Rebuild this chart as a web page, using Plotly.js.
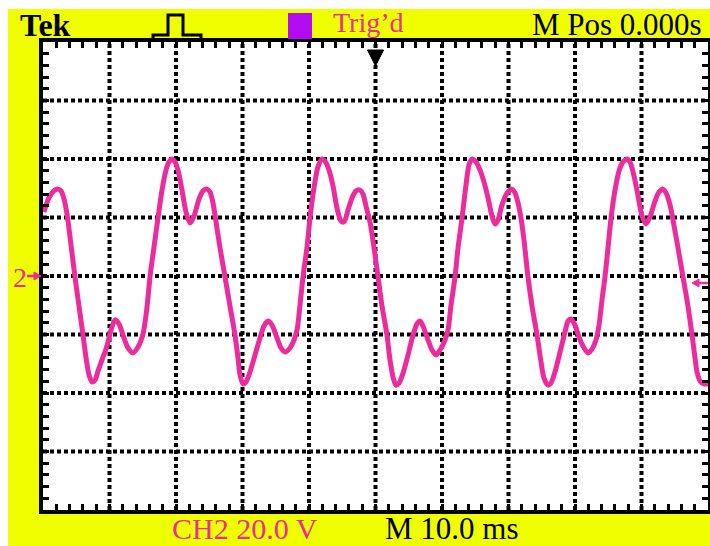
<!DOCTYPE html>
<html>
<head>
<meta charset="utf-8">
<script src="https://cdn.plot.ly/plotly-3.0.1.min.js"></script>
<style>
  html, body { margin: 0; padding: 0; background: #ffffff; }
  #scope { width: 710px; height: 546px; }
</style>
</head>
<body>
<div id="scope"></div>
<script>
// CH2 capture: time in ms (10 ms/div, trigger at 0), voltage in V (20 V/div)
const timeMs = [
  -49.85, -49.25, -48.65, -48.20, -47.74, -47.29, -46.84, -46.39, -45.79, -45.19,
  -44.59, -43.98, -43.53, -43.08, -42.63, -42.18, -41.73, -41.13, -40.38, -39.77,
  -39.17, -38.57, -37.97, -37.22, -36.47, -35.71, -34.96, -34.36, -33.91, -33.31,
  -32.71, -32.10, -31.50, -31.05, -30.60, -30.15, -29.70, -29.10, -28.50, -27.89,
  -27.29, -26.54, -25.94, -25.34, -24.89, -24.44, -23.98, -23.38, -22.63, -21.88,
  -21.13, -20.68, -20.38, -19.92, -19.47, -18.87, -18.12, -17.37, -16.77, -16.16,
  -15.56, -14.81, -14.21, -13.61, -12.86, -12.25, -11.80, -11.35, -10.90, -10.30,
  -9.85, -9.25, -8.65, -8.04, -7.59, -6.99, -6.39, -5.79, -5.19, -4.74,
  -4.13, -3.53, -2.93, -2.33, -1.88, -1.43, -0.83, -0.22, 0.38, 0.98,
  1.73, 2.18, 2.63, 3.08, 3.54, 4.14, 4.89, 5.64, 6.24, 6.69,
  7.14, 7.90, 8.50, 9.10, 9.70, 10.45, 10.90, 11.36, 11.96, 12.41,
  13.01, 13.61, 14.06, 14.51, 15.11, 15.72, 16.32, 16.92, 17.52, 17.97,
  18.42, 19.02, 19.78, 20.53, 20.98, 21.43, 21.88, 22.33, 22.93, 23.54,
  24.29, 24.89, 25.34, 25.94, 26.39, 26.99, 27.75, 28.50, 28.95, 29.40,
  30.00, 30.60, 31.36, 31.96, 32.56, 33.16, 33.61, 34.06, 34.51, 34.96,
  35.42, 36.02, 36.62, 37.22, 37.82, 38.27, 38.87, 39.48, 40.08, 40.68,
  41.28, 42.03, 42.63, 43.24, 43.69, 44.29, 44.74, 45.49, 46.24, 46.99,
  47.60, 48.05, 48.35, 48.80, 49.40, 50.00
];
const ch2Volts = [
  21.9, 26.0, 28.4, 29.4, 29.7, 29.1, 26.3, 21.2, 10.6, -0.3,
  -10.3, -20.2, -28.0, -33.8, -36.2, -35.6, -32.5, -28.7, -23.9, -18.5,
  -15.0, -16.4, -20.2, -24.6, -26.3, -24.3, -19.8, -10.6, -0.3, 9.9,
  19.8, 29.4, 36.2, 39.0, 40.0, 39.0, 36.2, 29.4, 21.9, 18.1,
  20.5, 26.3, 29.1, 29.7, 28.7, 25.0, 18.5, 9.6, -0.3, -10.3,
  -20.2, -28.0, -33.8, -36.9, -36.2, -32.8, -27.0, -21.2, -17.1, -15.4,
  -16.8, -21.2, -24.6, -26.0, -24.6, -21.9, -18.5, -9.9, -0.3, 9.9,
  19.8, 30.1, 37.3, 40.0, 39.3, 36.2, 30.8, 23.2, 18.8, 18.5,
  22.6, 26.7, 29.1, 29.4, 28.0, 23.9, 18.5, 9.6, -0.3, -10.3,
  -20.2, -28.7, -34.5, -37.3, -36.6, -33.2, -27.0, -20.2, -16.4, -15.4,
  -17.1, -21.9, -25.3, -27.0, -25.3, -21.9, -18.5, -9.9, -0.3, 9.6,
  19.8, 31.1, 38.0, 40.0, 39.0, 36.2, 32.1, 26.7, 20.5, 17.8,
  19.1, 24.3, 28.4, 29.7, 28.4, 25.0, 19.8, 12.3, -0.3, -10.3,
  -20.2, -29.4, -34.9, -37.3, -36.6, -32.8, -26.0, -19.1, -15.4, -14.7,
  -16.8, -20.9, -24.6, -26.3, -25.0, -21.9, -16.8, -8.2, -0.3, 9.6,
  19.8, 29.4, 35.9, 39.0, 40.0, 39.0, 34.2, 27.4, 20.5, 17.8,
  20.2, 25.6, 28.7, 29.7, 28.4, 24.3, 19.1, 9.6, -0.3, -10.3,
  -20.2, -28.0, -32.8, -35.9, -36.9, -36.9
];

// graticule divisions (major lines inside the screen)
const timeDivs = [-40, -30, -20, -10, 0, 10, 20, 30, 40];
const voltDivs = [-60, -40, -20, 0, 20, 40, 60];

// readout texts
const brandLabel = "Tek";
const trigLabel = "Trig’d";
const posLabel = "M Pos 0.000s";
const chLabel = "CH2 20.0 V";
const timebaseLabel = "M 10.0 ms";
const chMarker = "2";

// screen geometry (pixels) and helpers to paper coordinates
const W = 710, H = 546;
const L = 43, R = 2, T = 42, B = 36;
const PW = W - L - R, PH = H - T - B;
const px = v => (v - L) / PW;
const py = v => (H - B - v) / PH;

const yellow = "#f0ff00";
const pink = "#ec2c9c";
const serif = "Liberation Serif, Times New Roman, serif";

const trace = {
  x: timeMs,
  y: ch2Volts,
  type: "scatter",
  mode: "lines",
  line: { color: pink, width: 5, shape: "spline", smoothing: 0.8 },
  hoverinfo: "skip"
};

// dotted graticule drawn beneath the trace
const grid = [];
timeDivs.forEach(t => grid.push({
  type: "line", layer: "below", xref: "x", yref: "paper", x0: t, x1: t, y0: 0, y1: 1,
  line: { color: "#000000", width: 4, dash: "4px,3px" }
}));
voltDivs.forEach(v => grid.push({
  type: "line", layer: "below", xref: "paper", yref: "y", x0: 0, x1: 1, y0: v, y1: v,
  line: { color: "#000000", width: 4, dash: "4px,3px" }
}));

const shapes = grid.concat([
  // blank strips at the top and left edge of the capture
  { type: "rect", xref: "paper", yref: "paper", x0: px(0), x1: px(W), y0: py(0), y1: py(9),
    fillcolor: "#ffffff", line: { width: 0 } },
  { type: "rect", xref: "paper", yref: "paper", x0: px(0), x1: px(8), y0: py(0), y1: py(H),
    fillcolor: "#ffffff", line: { width: 0 } },
  // pulse (edge trigger) icon
  { type: "path", xref: "paper", yref: "paper",
    path: `M ${px(153)} ${py(39)} L ${px(153)} ${py(35)} L ${px(168)} ${py(35)} L ${px(168)} ${py(15)} ` +
          `L ${px(183)} ${py(15)} L ${px(183)} ${py(35)} L ${px(201)} ${py(35)} L ${px(201)} ${py(39)}`,
    line: { color: "#000000", width: 3 } },
  // run-state square
  { type: "rect", xref: "paper", yref: "paper", x0: px(288), x1: px(312), y0: py(39), y1: py(13),
    fillcolor: "#b40cf2", line: { width: 0 } },
  // trigger position marker
  { type: "path", xref: "paper", yref: "paper",
    path: `M ${px(367.5)} ${py(50)} L ${px(383.5)} ${py(50)} L ${px(375.5)} ${py(66)} Z`,
    fillcolor: "#000000", line: { color: "#000000", width: 1 } },
  // channel 2 ground marker arrow
  { type: "line", xref: "paper", yref: "paper", x0: px(27), x1: px(36), y0: py(276), y1: py(276),
    line: { color: pink, width: 2.5 } },
  { type: "path", xref: "paper", yref: "paper",
    path: `M ${px(34)} ${py(272)} L ${px(41)} ${py(276)} L ${px(34)} ${py(280)} Z`,
    fillcolor: pink, line: { color: pink, width: 1 } },
  // trigger level marker arrow
  { type: "line", xref: "paper", yref: "paper", x0: px(697), x1: px(708), y0: py(283), y1: py(283),
    line: { color: pink, width: 2.5 } },
  { type: "path", xref: "paper", yref: "paper",
    path: `M ${px(699)} ${py(279)} L ${px(692)} ${py(283)} L ${px(699)} ${py(287)} Z`,
    fillcolor: pink, line: { color: pink, width: 1 } }
]);

const ann = (text, x, y, xanchor, color, size, bold) => ({
  text: bold ? `<b>${text}</b>` : text,
  xref: "paper", yref: "paper", x: px(x), y: py(y),
  xanchor: xanchor, yanchor: "middle", showarrow: false,
  font: { family: serif, size: size, color: color }
});

const annotations = [
  ann(brandLabel, 18, 25, "left", "#000000", 32, true),
  ann(trigLabel, 331, 23, "left", pink, 28, false),
  ann(posLabel, 704, 25, "right", "#000000", 31, false),
  ann(chLabel, 170, 528, "left", pink, 30, false),
  ann(timebaseLabel, 383, 528, "left", "#000000", 31, false),
  ann(chMarker, 11, 277, "left", pink, 28, false)
];

const axisCommon = {
  showticklabels: false,
  zeroline: false,
  showgrid: false,
  ticks: "inside",
  ticklen: 6,
  tickwidth: 3,
  tickcolor: "#000000",
  showline: true,
  linecolor: "#000000",
  linewidth: 4,
  mirror: "allticks",
  fixedrange: true
};

const layout = {
  width: W,
  height: H,
  margin: { l: L, r: R, t: T, b: B, pad: 0 },
  paper_bgcolor: yellow,
  plot_bgcolor: "#ffffff",
  showlegend: false,
  xaxis: Object.assign({}, axisCommon, {
    range: [-50, 50], tick0: 0, dtick: 10,
    minor: { dtick: 2, ticks: "inside", ticklen: 6, tickwidth: 3, tickcolor: "#000000", showgrid: false }
  }),
  yaxis: Object.assign({}, axisCommon, {
    range: [-80, 80], tick0: 0, dtick: 20,
    minor: { dtick: 4, ticks: "inside", ticklen: 6, tickwidth: 3, tickcolor: "#000000", showgrid: false }
  }),
  shapes: shapes,
  annotations: annotations
};

Plotly.newPlot("scope", [trace], layout, { displayModeBar: false, staticPlot: true });
</script>
</body>
</html>
